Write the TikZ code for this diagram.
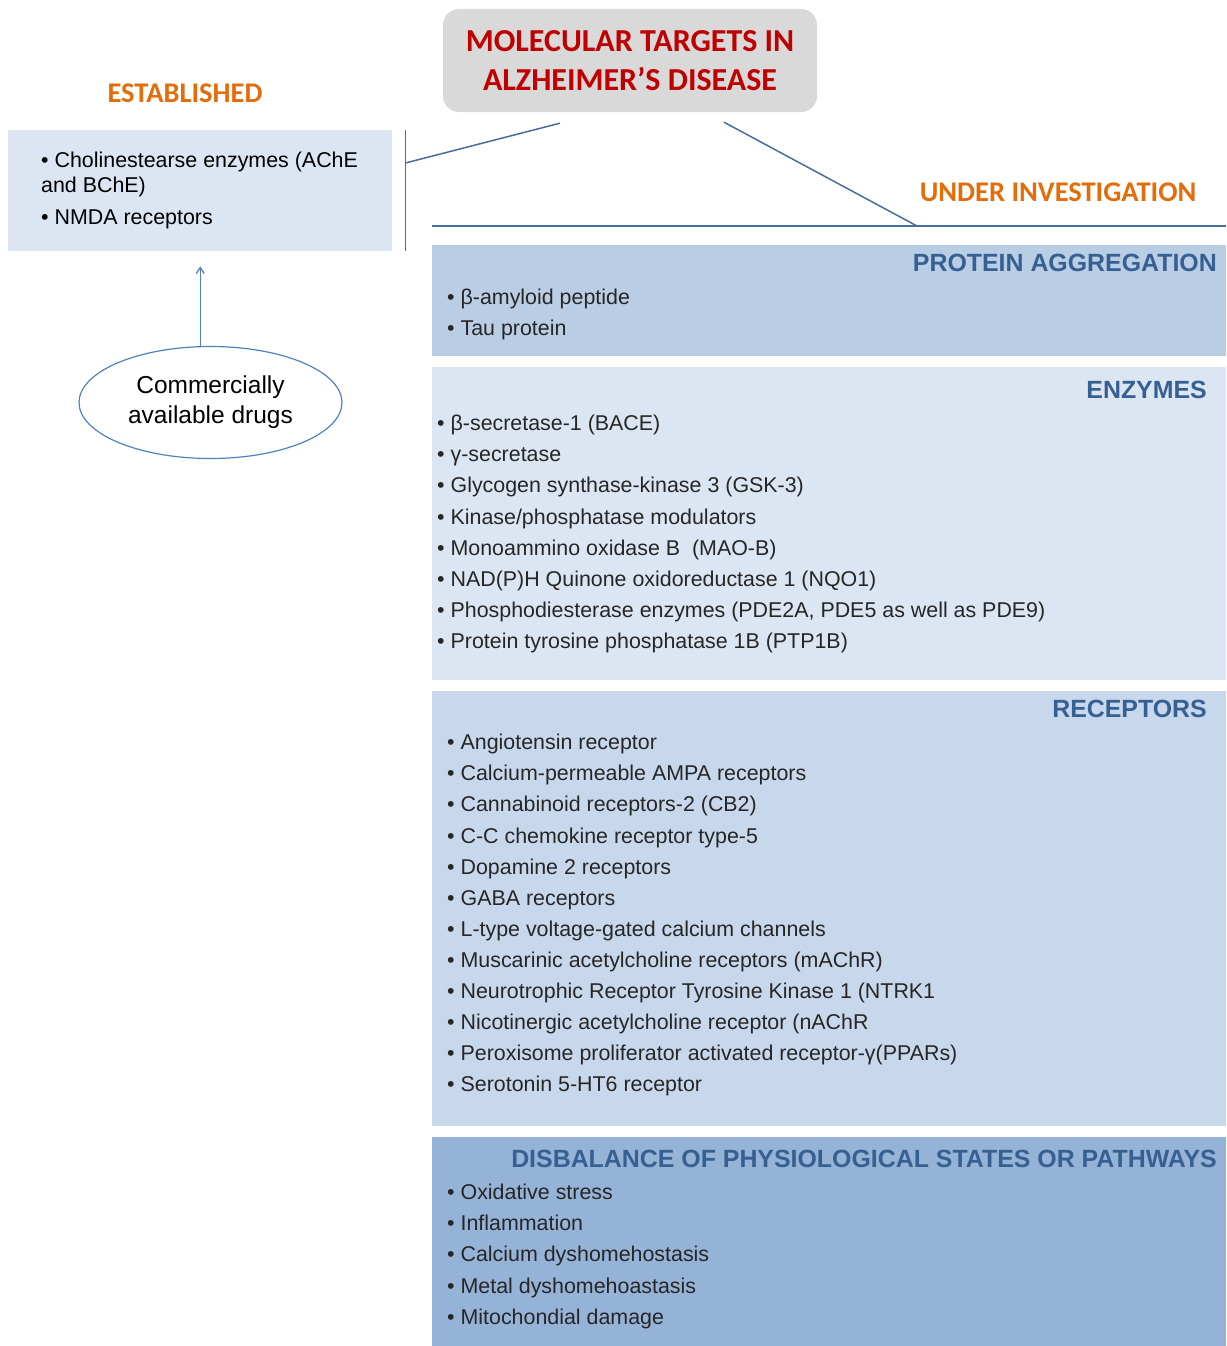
\documentclass[tikz,border=0pt]{standalone}
\usepackage{fontspec}
\setmainfont{Liberation Sans}
\newfontfamily\calibri{Carlito}
\usetikzlibrary{positioning,shapes.geometric,arrows.meta}
\definecolor{titlegray}{HTML}{D9D9D9}
\definecolor{titlered}{HTML}{C00000}
\definecolor{grouporange}{HTML}{E46C0A}
\definecolor{headblue}{HTML}{376092}
\definecolor{linkblue}{HTML}{4A6C9B}
\definecolor{arrowblue}{HTML}{4F81BD}
\definecolor{lightfill}{HTML}{DCE6F2}
\definecolor{aggfill}{HTML}{B9CDE5}
\definecolor{recfill}{HTML}{C8D8EC}
\definecolor{disfill}{HTML}{95B3D7}
\definecolor{itemgray}{HTML}{262626}
\begin{document}
\begin{tikzpicture}[x=1pt,y=-1pt,
  box/.style={rectangle, inner sep=0pt, outer sep=0pt, minimum width=794pt, anchor=north west},
  head/.style={anchor=east, inner sep=0pt, text=headblue, font=\fontsize{24.9}{28}\selectfont\bfseries},
  items/.style={anchor=north west, inner sep=0pt, align=left, text=itemgray, font=\fontsize{21.4}{31.1}\selectfont},
  group/.style={text=grouporange, inner sep=0pt, font=\calibri\bfseries\fontsize{28.5}{30}\selectfont},
  link/.style={draw=linkblue, line width=1.5pt}]
\useasboundingbox (0,0) rectangle (1226,1346);

% title and the two groups
\node[fill=titlegray, rounded corners=16pt, minimum width=374pt, minimum height=103pt, align=center, text=titlered, font=\calibri\bfseries\fontsize{32}{39}\selectfont] (title) at (630,60.5) {MOLECULAR TARGETS IN\\ALZHEIMER’S DISEASE};
\node[group] (established) at (185,93) {ESTABLISHED};
\node[group] (investigation) at (1058,192) {UNDER INVESTIGATION};

% established targets
\node[fill=lightfill, minimum width=384pt, minimum height=121pt, anchor=north west, inner sep=0pt] (estbox) at (8,130) {};
\node[items, text=black, font=\fontsize{21.4}{25}\selectfont] (estlist) at ([xshift=33pt,yshift=-22pt]estbox.north west) {• Cholinestearse enzymes (AChE\\and BChE)\\[7pt]• NMDA receptors};
\node[ellipse, draw=arrowblue, line width=1.2pt, minimum width=263pt, minimum height=112pt, align=center, font=\fontsize{24.5}{30}\selectfont] (drugs) at (210.5,402.5) {Commercially\\available drugs};
\draw[arrowblue, line width=1.3pt, -{Straight Barb[length=6pt,width=8pt]}] (drugs.north -| estbox.south) -- ([yshift=-15pt]estbox.south);

% targets under investigation
\node[box, fill=aggfill, minimum height=111pt] (agg) at (432,245) {};
\node[box, fill=lightfill, minimum height=313pt, below=11pt of agg] (enz) {};
\node[box, fill=recfill, minimum height=435pt, below=11pt of enz] (rec) {};
\node[box, fill=disfill, minimum height=209pt, below=11pt of rec] (dis) {};

\node[head] (agghead) at ([xshift=-9pt,yshift=-18pt]agg.north east) {PROTEIN AGGREGATION};
\node[head] (enzhead) at ([xshift=-19pt,yshift=-23pt]enz.north east) {ENZYMES};
\node[head] (rechead) at ([xshift=-19pt,yshift=-18pt]rec.north east) {RECEPTORS};
\node[head] (dishead) at ([xshift=-9pt,yshift=-22pt]dis.north east) {DISBALANCE OF PHYSIOLOGICAL STATES OR PATHWAYS};

\node[items] (agglist) at ([xshift=15pt,yshift=-44pt]agg.north west) {• β-amyloid peptide\\• Tau protein};
\node[items] (enzlist) at ([xshift=5pt,yshift=-48pt]enz.north west) {• β-secretase-1 (BACE)\\• γ-secretase\\• Glycogen synthase-kinase 3 (GSK-3)\\• Kinase/phosphatase modulators\\• Monoammino oxidase B\ \ (MAO-B)\\• NAD(P)H Quinone oxidoreductase 1 (NQO1)\\• Phosphodiesterase enzymes (PDE2A, PDE5 as well as PDE9)\\• Protein tyrosine phosphatase 1B (PTP1B)};
\node[items] (reclist) at ([xshift=15pt,yshift=-43pt]rec.north west) {• Angiotensin receptor\\• Calcium-permeable AMPA receptors\\• Cannabinoid receptors-2 (CB2)\\• C-C chemokine receptor type-5\\• Dopamine 2 receptors\\• GABA receptors\\• L-type voltage-gated calcium channels\\• Muscarinic acetylcholine receptors (mAChR)\\• Neurotrophic Receptor Tyrosine Kinase 1 (NTRK1\\• Nicotinergic acetylcholine receptor (nAChR\\• Peroxisome proliferator activated receptor-γ(PPARs)\\• Serotonin 5-HT6 receptor};
\node[items] (dislist) at ([xshift=15pt,yshift=-47pt]dis.north west) {• Oxidative stress\\• Inflammation\\• Calcium dyshomehostasis\\• Metal dyshomehoastasis\\• Mitochondial damage};

% connectors from the title
\coordinate (split) at ([xshift=13pt,yshift=-33pt]estbox.north east);
\coordinate (join) at ([xshift=485pt,yshift=19pt]agg.north west);
\draw[link] ([xshift=13pt]estbox.north east) -- ([xshift=13pt]estbox.south east);
\draw[link] ([xshift=-70pt,yshift=-11pt]title.south) -- (split);
\draw[link] ([xshift=94pt,yshift=-10pt]title.south) -- (join);
\draw[link] ([yshift=19pt]agg.north west) -- ([yshift=19pt]agg.north east);
\end{tikzpicture}
\end{document}
